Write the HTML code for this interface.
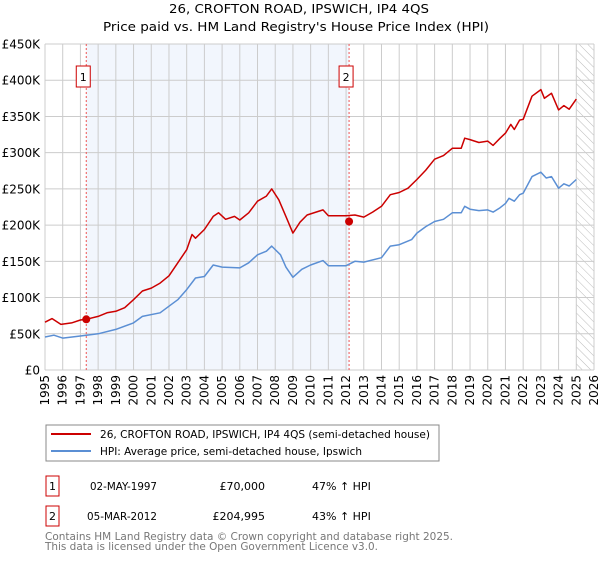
<!DOCTYPE html>
<html><head><meta charset="utf-8"><style>
body{margin:0;background:#fff;font-family:"Liberation Sans","DejaVu Sans",sans-serif;}
svg text{font-family:"DejaVu Sans","Liberation Sans",sans-serif;}
</style></head><body>
<svg id="c" width="600" height="560" viewBox="0 0 600 560" xmlns="http://www.w3.org/2000/svg">
<defs><pattern id="hatch" width="6" height="6" patternUnits="userSpaceOnUse" patternTransform="rotate(-45)"><line x1="0" y1="0" x2="0" y2="6" stroke="#bbb" stroke-width="1"/></pattern></defs>
<text x="299" y="13" text-anchor="middle" font-size="12" textLength="260" lengthAdjust="spacingAndGlyphs">26, CROFTON ROAD, IPSWICH, IP4 4QS</text>
<text x="296" y="31" text-anchor="middle" font-size="12" textLength="386" lengthAdjust="spacingAndGlyphs">Price paid vs. HM Land Registry's House Price Index (HPI)</text>
<g id="plot"></g>
<rect x="46" y="425" width="393" height="36" fill="#fff" stroke="#888"/>
<line x1="51" y1="434" x2="91" y2="434" stroke="#cc0000" stroke-width="2"/>
<text x="100" y="438" font-size="10.5" textLength="330" lengthAdjust="spacingAndGlyphs">26, CROFTON ROAD, IPSWICH, IP4 4QS (semi-detached house)</text>
<line x1="51" y1="451" x2="91" y2="451" stroke="#5b8fd4" stroke-width="2"/>
<text x="100" y="455" font-size="10.5" textLength="262" lengthAdjust="spacingAndGlyphs">HPI: Average price, semi-detached house, Ipswich</text>
<g>
<rect x="46" y="476" width="13" height="20" fill="#fff" stroke="#cc0000"/><text x="52.5" y="490" text-anchor="middle" font-size="11">1</text>
<text x="157" y="490" text-anchor="end" font-size="11" textLength="67" lengthAdjust="spacingAndGlyphs">02-MAY-1997</text>
<text x="265" y="490" text-anchor="end" font-size="11">£70,000</text>
<text x="312" y="490" font-size="11">47% ↑ HPI</text></g>
<g>
<rect x="46" y="506" width="13" height="20" fill="#fff" stroke="#cc0000"/><text x="52.5" y="520" text-anchor="middle" font-size="11">2</text>
<text x="157" y="520" text-anchor="end" font-size="11" textLength="70" lengthAdjust="spacingAndGlyphs">05-MAR-2012</text>
<text x="265" y="520" text-anchor="end" font-size="11">£204,995</text>
<text x="312" y="520" font-size="11">43% ↑ HPI</text></g>
<text x="45" y="540" font-size="11" fill="#777" textLength="408" lengthAdjust="spacingAndGlyphs">Contains HM Land Registry data © Crown copyright and database right 2025.</text>
<text x="45" y="550" font-size="11" fill="#777" textLength="333" lengthAdjust="spacingAndGlyphs">This data is licensed under the Open Government Licence v3.0.</text>
</svg>
<script>
const yTicks=[0,50,100,150,200,250,300,350,400,450];
const yTickLabels=["£0","£50K","£100K","£150K","£200K","£250K","£300K","£350K","£400K","£450K"];
const xYears=[1995,1996,1997,1998,1999,2000,2001,2002,2003,2004,2005,2006,2007,2008,2009,2010,2011,2012,2013,2014,2015,2016,2017,2018,2019,2020,2021,2022,2023,2024,2025,2026];
const propT=[1995,1995.4,1995.9,1996.5,1997,1997.33,1998,1998.5,1999,1999.5,2000,2000.5,2001,2001.5,2002,2002.5,2003,2003.3,2003.5,2004,2004.5,2004.8,2005.2,2005.7,2006,2006.5,2007,2007.5,2007.8,2008.2,2008.6,2009,2009.4,2009.8,2010.3,2010.7,2011,2011.5,2012,2012.5,2013,2013.5,2014,2014.5,2015,2015.5,2016,2016.5,2017,2017.5,2018,2018.5,2018.7,2019,2019.5,2020,2020.3,2020.7,2021,2021.3,2021.5,2021.8,2022,2022.5,2023,2023.2,2023.6,2024,2024.3,2024.6,2025];
const propV=[66,71,63,65,69,70,74,79,81,86,97,109,113,120,130,148,166,187,182,194,212,217,208,212,207,217,233,240,250,235,212,189,204,214,218,221,213,213,213,214,211,218,226,242,245,251,263,276,291,296,306,306,320,318,314,316,310,320,327,339,332,345,346,378,387,375,382,359,365,360,374];
const hpiT=[1995,1995.5,1996,1997,1997.33,1998,1999,2000,2000.5,2001.5,2002,2002.5,2003,2003.5,2004,2004.5,2005,2006,2006.5,2007,2007.5,2007.8,2008.3,2008.6,2009,2009.5,2010,2010.7,2011,2012,2012.5,2013,2014,2014.5,2015,2015.7,2016,2016.5,2017,2017.5,2018,2018.5,2018.7,2019,2019.5,2020,2020.3,2020.7,2021,2021.2,2021.5,2021.8,2022,2022.5,2023,2023.3,2023.6,2024,2024.3,2024.6,2025];
const hpiV=[45.5,48,44,47,48,50,56,65,74,79,88,97,111,127,129,145,142,141,148,159,164,171,159,142,128,139,145,151,144,144,150,149,155,171,173,180,189,198,205,208,217,217,226,222,220,221,218,224,230,237,233,242,244,267,273,265,267,251,257,254,263];
const saleT=[1997.33,2012.17];
const saleV=[70,204.995];
const saleLabels=["1","2"];
const L=45,R=594,T=44,B=370;
const xS=t=>L+(t-1995)/31*(R-L);
const yS=v=>B-v/450*(B-T);
const NS="http://www.w3.org/2000/svg";
const g=document.getElementById('plot');
function mk(tag,attrs,parent){const e=document.createElementNS(NS,tag);for(const k in attrs)e.setAttribute(k,attrs[k]);(parent||g).appendChild(e);return e;}
let e=mk('rect',{x:xS(saleT[0]),y:T,width:xS(saleT[1])-xS(saleT[0]),height:B-T,fill:'#f2f6fd'});


e=mk('rect',{x:xS(2025),y:T,width:R-xS(2025),height:B-T,fill:'url(#hatch)'});


xYears.forEach(y=>{const l=mk('line',{x1:xS(y),x2:xS(y),y1:T,y2:B,stroke:'#ccc','stroke-width':1});


const t=mk('text',{x:0,y:0,'font-size':12,'text-anchor':'end',transform:`translate(${xS(y)+4},${B+5}) rotate(-90)`});t.textContent=y;

});
yTicks.forEach((v,i)=>{const l=mk('line',{x1:L,x2:R,y1:yS(v),y2:yS(v),stroke:'#ccc','stroke-width':1});


const t=mk('text',{x:L-5,y:yS(v)+4.5,'font-size':12,'text-anchor':'end'});t.textContent=yTickLabels[i];

});
saleT.forEach((s,i)=>{const l=mk('line',{x1:xS(s),x2:xS(s),y1:T,y2:B,stroke:'#e55','stroke-width':1,'stroke-dasharray':'2,2'});


const r=mk('rect',{x:xS(s)-10,y:66,width:14,height:21,fill:'#fff',stroke:'#cc0000'});


const t=mk('text',{x:xS(s)-3,y:81,'font-size':11,'text-anchor':'middle'});t.textContent=saleLabels[i];

});
function line(ts,vs,col,name){const d=ts.map((t,i)=>(i?'L':'M')+xS(t).toFixed(1)+','+yS(vs[i]).toFixed(1)).join('');
const p=mk('path',{d:d,fill:'none',stroke:col,'stroke-width':1.5,'stroke-linejoin':'round'});

}
line(hpiT,hpiV,'#5b8fd4','hpi-line');
line(propT,propV,'#cc0000','property-price-line');
saleT.forEach((s,i)=>{const c=mk('circle',{cx:xS(s),cy:yS(saleV[i]),r:4,fill:'#cc0000'});

});
</script>
</body></html>
